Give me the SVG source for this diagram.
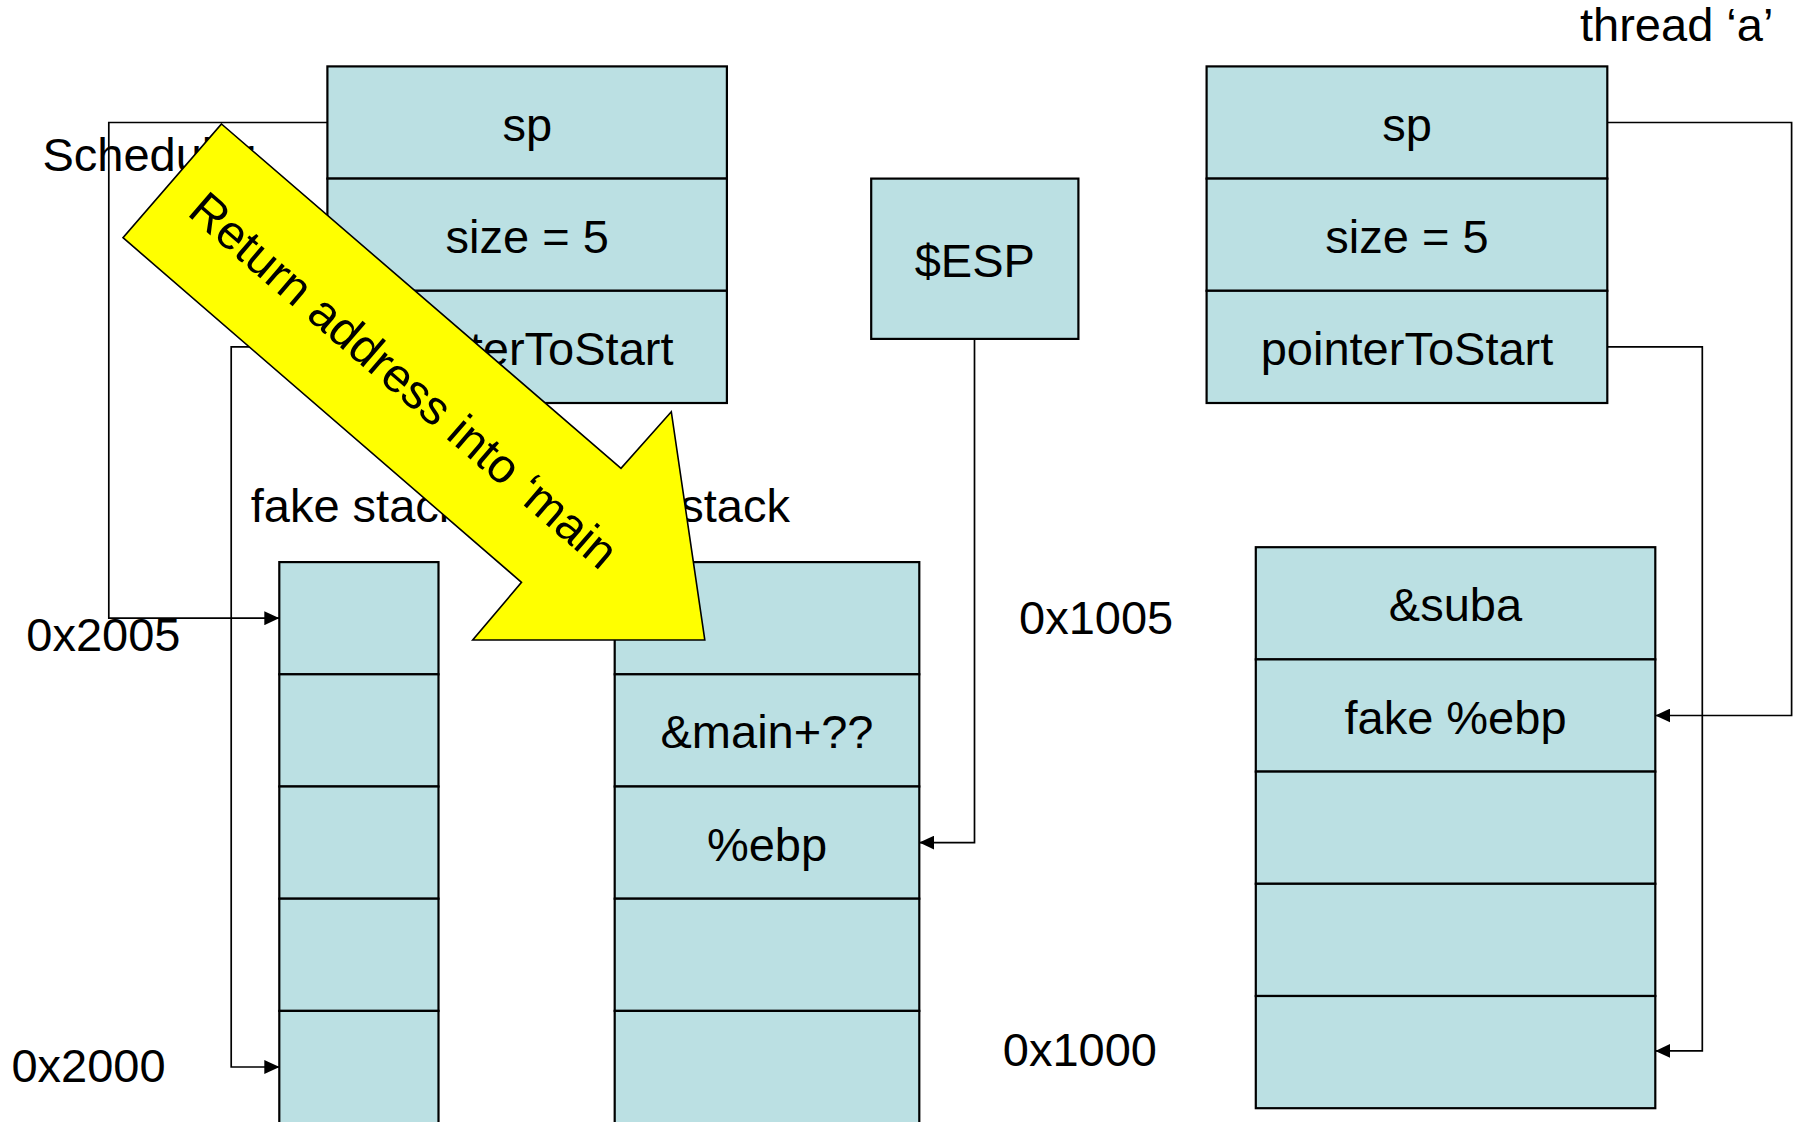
<svg xmlns="http://www.w3.org/2000/svg" width="1795" height="1122" viewBox="0 0 1795 1122">
  <defs>
    <style>
      text { font-family: "Liberation Sans", Arial, sans-serif; font-size: 47px; fill: #000; }
      .c { text-anchor: middle; }
      .cell { fill: #BBE0E3; stroke: #000; stroke-width: 2.2; }
      .wire { fill: none; stroke: #000; stroke-width: 1.7; marker-end: url(#head); }
      .callout { fill: #FFFF00; stroke: #000; stroke-width: 1.6; stroke-linejoin: miter; }
      .callout-text { font-size: 48px; text-anchor: middle; }
    </style>
    <marker id="head" viewBox="0 0 15 14" refX="15" refY="7" markerWidth="15" markerHeight="14" markerUnits="userSpaceOnUse" orient="auto">
      <path d="M0,0 L15,7 L0,14 z" fill="#000"/>
    </marker>
  </defs>

  <rect width="1795" height="1122" fill="#fff"/>

  <!-- pointers between structures -->
  <g id="connectors">
    <polyline class="wire" points="327.4,122.5 108.8,122.5 108.8,618.2 279.3,618.2"/>
    <polyline class="wire" points="327.4,346.9 231.2,346.9 231.2,1067 279.3,1067"/>
    <polyline class="wire" points="974.5,338.9 974.5,842.6 919.3,842.6"/>
    <polyline class="wire" points="1607.3,122.5 1791.6,122.5 1791.6,715.5 1655.3,715.5"/>
    <polyline class="wire" points="1607.3,346.9 1702.3,346.9 1702.3,1050.9 1655.3,1050.9"/>
  </g>

  <!-- scheduler thread record -->
  <g id="scheduler-record">
    <rect class="cell" x="327.4" y="66.4" width="399.5" height="112.2"/>
    <rect class="cell" x="327.4" y="178.6" width="399.5" height="112.2"/>
    <rect class="cell" x="327.4" y="290.8" width="399.5" height="112.2"/>
    <text class="c" x="527.2" y="140.5">sp</text>
    <text class="c" x="527.2" y="252.7">size = 5</text>
    <text class="c" x="527.2" y="364.9">pointerToStart</text>
  </g>

  <!-- thread 'a' record -->
  <g id="thread-a-record">
    <rect class="cell" x="1206.6" y="66.4" width="400.7" height="112.2"/>
    <rect class="cell" x="1206.6" y="178.6" width="400.7" height="112.2"/>
    <rect class="cell" x="1206.6" y="290.8" width="400.7" height="112.2"/>
    <text class="c" x="1407" y="140.5">sp</text>
    <text class="c" x="1407" y="252.7">size = 5</text>
    <text class="c" x="1407" y="364.9">pointerToStart</text>
  </g>

  <!-- stack pointer register -->
  <g id="esp">
    <rect class="cell" x="871.2" y="178.6" width="207.2" height="160.3"/>
    <text class="c" x="974.8" y="276.7">$ESP</text>
  </g>

  <!-- fake stack -->
  <g id="fake-stack">
    <rect class="cell" x="279.3" y="562.1" width="159.2" height="112.2"/>
    <rect class="cell" x="279.3" y="674.3" width="159.2" height="112.2"/>
    <rect class="cell" x="279.3" y="786.5" width="159.2" height="112.2"/>
    <rect class="cell" x="279.3" y="898.7" width="159.2" height="112.2"/>
    <rect class="cell" x="279.3" y="1010.9" width="159.2" height="112.2"/>
  </g>

  <!-- running stack -->
  <g id="main-stack">
    <rect class="cell" x="614.7" y="562.1" width="304.6" height="112.2"/>
    <rect class="cell" x="614.7" y="674.3" width="304.6" height="112.2"/>
    <rect class="cell" x="614.7" y="786.5" width="304.6" height="112.2"/>
    <rect class="cell" x="614.7" y="898.7" width="304.6" height="112.2"/>
    <rect class="cell" x="614.7" y="1010.9" width="304.6" height="112.2"/>
    <text class="c" x="767" y="748.4">&amp;main+??</text>
    <text class="c" x="767" y="860.6">%ebp</text>
  </g>

  <!-- thread 'a' stack -->
  <g id="thread-a-stack">
    <rect class="cell" x="1255.8" y="547.2" width="399.5" height="112.2"/>
    <rect class="cell" x="1255.8" y="659.4" width="399.5" height="112.2"/>
    <rect class="cell" x="1255.8" y="771.6" width="399.5" height="112.2"/>
    <rect class="cell" x="1255.8" y="883.8" width="399.5" height="112.2"/>
    <rect class="cell" x="1255.8" y="996" width="399.5" height="112.2"/>
    <text class="c" x="1455.5" y="621.3">&amp;suba</text>
    <text class="c" x="1455.5" y="733.5">fake %ebp</text>
  </g>

  <!-- free-standing labels -->
  <g id="labels">
    <text x="1580" y="41">thread ‘a’</text>
    <text x="42.4" y="170.5">Scheduler</text>
    <text x="250.7" y="522">fake stack</text>
    <text x="790" y="522" text-anchor="end">stack</text>
    <text x="26.3" y="651">0x2005</text>
    <text x="11.4" y="1082">0x2000</text>
    <text x="1019" y="634">0x1005</text>
    <text x="1002.8" y="1066">0x1000</text>
  </g>

  <!-- callout arrow -->
  <g id="return-callout">
    <polygon class="callout" points="221.5,124 621,468.3 671.3,411.7 704.8,640 472.7,640 521.5,582.3 123,237.7"/>
    <text class="callout-text" transform="translate(404,380) rotate(40.76)" dy="0.35em">Return address into ‘main</text>
  </g>
</svg>
